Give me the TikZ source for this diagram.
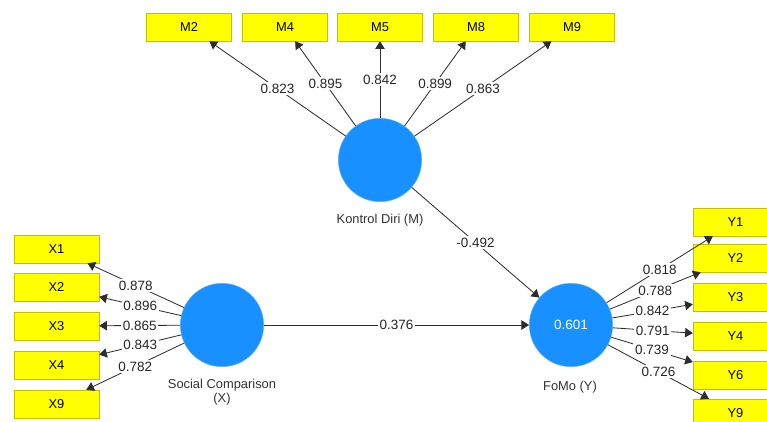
\documentclass[tikz,border=0pt]{standalone}
\usepackage{fontspec}
\setmainfont{Liberation Sans}
\usetikzlibrary{arrows.meta}

\definecolor{boxyellow}{RGB}{255,255,0}
\definecolor{boxedge}{RGB}{200,190,0}
\definecolor{lvblue}{RGB}{24,144,255}
\definecolor{pathgray}{RGB}{45,45,45}

\tikzset{
  indicator/.style={draw=boxedge,fill=boxyellow,minimum width=2.55cm,
    minimum height=0.84cm,inner sep=0pt,font=\fontsize{11}{13}\selectfont},
  construct/.style={circle,fill=lvblue,draw=lvblue!70,minimum size=2.5cm,
    inner sep=0pt,text=white,font=\fontsize{11.5}{13}\selectfont},
  caption/.style={font=\fontsize{11}{12.5}\selectfont,text=black!80,align=center},
  coef/.style={fill=white,inner sep=1.5pt,text=black!85,
    font=\fontsize{11.5}{13}\selectfont},
  pth/.style={draw=pathgray,line width=0.7pt,-{Triangle[length=6.5pt,width=8pt]}}
}

\begin{document}
\begin{tikzpicture}[x=0.03cm,y=-0.03cm]
  \clip
    (0,0)
    rectangle
    (767,421);
  \fill[white]
    (0,0)
    rectangle
    (767,421);

  % latent variables
  \node[construct] (kd) at (380,160) {};
  \node[construct] (sc) at (222,325) {};
  \node[construct] (fomo) at (571,325) {0.601};
  \node[caption] (kdname) at (380,220) {Kontrol Diri (M)};
  \node[caption] (scname) at (222,392) {Social Comparison\\(X)};
  \node[caption] (fomoname) at (570,387) {FoMo (Y)};

  % indicators of M
  \node[indicator] (m2) at (189,27) {M2};
  \node[indicator] (m4) at (285,27) {M4};
  \node[indicator] (m5) at (380,27) {M5};
  \node[indicator] (m8) at (476,27) {M8};
  \node[indicator] (m9) at (572,27) {M9};

  % indicators of X
  \node[indicator] (x1) at (56.5,249) {X1};
  \node[indicator] (x2) at (56.5,287) {X2};
  \node[indicator] (x3) at (56.5,326) {X3};
  \node[indicator] (x4) at (56.5,365) {X4};
  \node[indicator] (x9) at (56.5,404) {X9};

  % indicators of Y
  \node[indicator] (y1) at (735.5,222) {Y1};
  \node[indicator] (y2) at (735.5,258) {Y2};
  \node[indicator] (y3) at (735.5,297) {Y3};
  \node[indicator] (y4) at (735.5,336) {Y4};
  \node[indicator] (y6) at (735.5,375) {Y6};
  \node[indicator] (y9) at (735.5,413) {Y9};

  % outer loadings of M
  \draw[pth]
    (kd)
    -- node[coef] {0.823}
    (m2);
  \draw[pth]
    (kd)
    -- node[coef] {0.895}
    (m4);
  \draw[pth]
    (kd)
    -- node[coef] {0.842}
    (m5);
  \draw[pth]
    (kd)
    -- node[coef] {0.899}
    (m8);
  \draw[pth]
    (kd)
    -- node[coef] {0.863}
    (m9);

  % outer loadings of X
  \draw[pth]
    (sc)
    -- node[coef] {0.878}
    (x1);
  \draw[pth]
    (sc)
    -- node[coef] {0.896}
    (x2);
  \draw[pth]
    (sc)
    -- node[coef] {0.865}
    (x3);
  \draw[pth]
    (sc)
    -- node[coef] {0.843}
    (x4);
  \draw[pth]
    (sc)
    -- node[coef] {0.782}
    (x9);

  % outer loadings of Y
  \draw[pth]
    (fomo)
    -- node[coef] {0.818}
    (y1);
  \draw[pth]
    (fomo)
    -- node[coef] {0.788}
    (y2);
  \draw[pth]
    (fomo)
    -- node[coef] {0.842}
    (y3);
  \draw[pth]
    (fomo)
    -- node[coef] {0.791}
    (y4);
  \draw[pth]
    (fomo)
    -- node[coef] {0.739}
    (y6);
  \draw[pth]
    (fomo)
    -- node[coef] {0.726}
    (y9);

  % inner model
  \draw[pth]
    (kd)
    -- node[coef] {-0.492}
    (fomo);
  \draw[pth]
    (sc)
    -- node[coef] {0.376}
    (fomo);
\end{tikzpicture}
\end{document}
